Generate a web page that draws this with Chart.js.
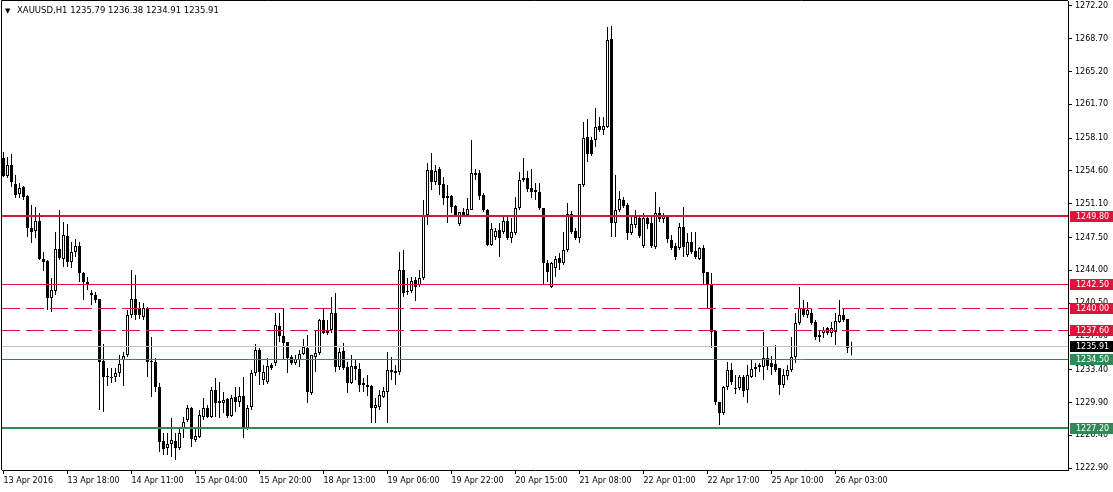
<!DOCTYPE html>
<html>
<head>
<meta charset="utf-8">
<title>XAUUSD,H1</title>
<script src="https://cdn.jsdelivr.net/npm/chart.js@4.4.0/dist/chart.umd.min.js"></script>
<style>
  html, body { margin: 0; padding: 0; background: #fff; }
  #wrap { width: 1113px; height: 492px; }
</style>
</head>
<body>
<div id="wrap"><canvas id="priceChart" width="1113" height="492"></canvas></div>
<script>
// XAUUSD H1 candles, 13 Apr 02:00 -> 26 Apr 07:00 (one entry per hour bar)
const opens = [
  1255.98, 1254.06, 1255.24, 1253.21, 1252.14, 1252.89, 1251.93, 1248.51, 1248.19, 1249.26,
  1245.20, 1244.99, 1241.04, 1241.79, 1246.27, 1245.20, 1247.66, 1244.88, 1245.95, 1246.59,
  1243.71, 1242.75, 1241.58, 1241.37, 1240.94, 1234.32, 1232.72, 1232.61, 1232.61, 1233.04,
  1234.43, 1234.96, 1239.23, 1240.94, 1239.98, 1239.02, 1239.98, 1234.32, 1234.21, 1231.55,
  1225.79, 1225.04, 1225.47, 1225.79, 1225.04, 1227.06, 1228.03, 1229.31, 1225.89, 1226.21,
  1228.35, 1229.31, 1228.35, 1231.23, 1230.05, 1229.84, 1230.27, 1228.45, 1230.48, 1229.95,
  1230.59, 1227.17, 1229.41, 1233.04, 1235.50, 1232.29, 1232.08, 1233.89, 1234.11, 1238.06,
  1236.99, 1236.35, 1234.75, 1234.11, 1234.43, 1235.07, 1235.71, 1230.91, 1234.75, 1235.18,
  1238.70, 1237.63, 1237.63, 1239.44, 1233.68, 1235.39, 1233.68, 1231.97, 1233.79, 1233.47,
  1231.97, 1231.76, 1231.65, 1229.31, 1229.41, 1230.48, 1231.01, 1233.36, 1233.25, 1233.15,
  1244.03, 1241.79, 1241.79, 1242.96, 1242.43, 1243.18, 1249.90, 1254.70, 1253.42, 1254.81,
  1253.21, 1251.71, 1251.93, 1250.86, 1248.94, 1250.22, 1249.90, 1250.43, 1254.38, 1254.38,
  1252.03, 1250.43, 1246.70, 1247.55, 1248.30, 1248.09, 1249.26, 1247.45, 1247.98, 1250.65,
  1253.85, 1253.85, 1252.78, 1252.57, 1252.35, 1250.65, 1244.78, 1242.22, 1244.24, 1245.31,
  1244.78, 1246.17, 1250.01, 1248.19, 1247.45, 1253.10, 1258.22, 1257.90, 1257.90, 1259.40,
  1258.97, 1259.29, 1268.68, 1249.05, 1250.43, 1251.50, 1250.97, 1247.98, 1248.83, 1249.58,
  1246.59, 1249.58, 1249.05, 1246.49, 1250.11, 1249.47, 1249.69, 1247.23, 1246.59, 1246.38,
  1248.62, 1245.63, 1247.02, 1246.06, 1245.20, 1246.38, 1243.82, 1242.43, 1237.52, 1229.95,
  1228.77, 1231.55, 1233.36, 1231.44, 1231.44, 1232.61, 1231.23, 1232.61, 1233.47, 1233.68,
  1233.68, 1234.64, 1234.11, 1234.00, 1233.57, 1231.76, 1232.72, 1233.36, 1234.75, 1238.38,
  1239.98, 1239.23, 1239.44, 1238.48, 1237.10, 1237.31, 1237.84, 1237.31, 1237.42, 1238.48,
  1239.23, 1238.80, 1235.79
];
const highs = [
  1256.63, 1256.09, 1256.41, 1254.17, 1253.31, 1253.00, 1252.03, 1250.97, 1250.75, 1250.11,
  1245.95, 1245.10, 1243.18, 1248.09, 1250.43, 1249.15, 1248.94, 1247.02, 1247.34, 1247.02,
  1243.82, 1243.28, 1241.90, 1241.68, 1240.94, 1236.14, 1233.57, 1233.57, 1233.57, 1234.96,
  1235.28, 1239.76, 1244.03, 1243.50, 1240.62, 1240.51, 1240.08, 1236.88, 1234.64, 1231.97,
  1226.64, 1226.64, 1228.24, 1226.64, 1227.17, 1228.35, 1229.63, 1229.41, 1227.17, 1229.09,
  1230.37, 1229.63, 1231.55, 1232.51, 1232.08, 1231.01, 1230.37, 1230.69, 1231.55, 1231.55,
  1232.61, 1229.63, 1233.36, 1236.14, 1235.71, 1233.89, 1234.64, 1234.11, 1239.44, 1239.44,
  1239.98, 1236.35, 1234.96, 1234.96, 1235.50, 1236.67, 1237.10, 1234.96, 1237.63, 1238.80,
  1239.98, 1238.70, 1241.15, 1241.58, 1235.71, 1236.24, 1234.21, 1234.96, 1234.43, 1234.11,
  1232.51, 1232.83, 1231.76, 1230.37, 1231.23, 1231.55, 1235.28, 1234.75, 1233.89, 1245.95,
  1246.17, 1243.18, 1243.28, 1243.28, 1244.03, 1251.50, 1255.45, 1256.52, 1255.23, 1255.02,
  1253.96, 1253.10, 1252.03, 1250.97, 1250.22, 1250.65, 1251.71, 1257.90, 1254.81, 1254.70,
  1252.25, 1250.54, 1249.05, 1248.51, 1249.05, 1249.69, 1249.69, 1249.58, 1251.82, 1254.49,
  1255.98, 1254.60, 1254.81, 1253.31, 1253.31, 1250.65, 1245.10, 1244.88, 1245.52, 1245.84,
  1248.09, 1251.18, 1250.33, 1248.51, 1253.21, 1259.82, 1260.14, 1258.22, 1261.32, 1260.36,
  1260.36, 1269.96, 1270.07, 1254.17, 1252.46, 1251.82, 1251.18, 1249.69, 1250.43, 1249.69,
  1250.11, 1249.79, 1249.79, 1252.35, 1250.75, 1250.11, 1249.79, 1247.77, 1246.91, 1249.05,
  1250.75, 1247.98, 1248.09, 1248.09, 1246.49, 1246.70, 1243.82, 1243.71, 1237.52, 1229.95,
  1231.65, 1234.21, 1234.11, 1232.83, 1232.83, 1232.83, 1233.89, 1234.43, 1234.11, 1234.11,
  1237.42, 1235.82, 1234.86, 1236.03, 1233.57, 1233.47, 1233.89, 1236.88, 1239.44, 1242.22,
  1240.83, 1240.62, 1239.98, 1238.70, 1237.63, 1237.95, 1237.95, 1238.48, 1239.44, 1240.83,
  1239.98, 1238.80, 1236.38
];
const lows = [
  1253.95, 1253.85, 1252.89, 1251.71, 1251.71, 1251.50, 1247.55, 1246.91, 1247.45, 1245.10,
  1243.92, 1239.76, 1239.55, 1241.37, 1245.10, 1244.35, 1244.35, 1244.24, 1245.42, 1242.75,
  1240.83, 1241.90, 1240.30, 1240.51, 1229.09, 1228.88, 1231.65, 1231.98, 1232.08, 1232.61,
  1231.65, 1234.75, 1238.91, 1238.70, 1238.80, 1238.70, 1232.61, 1230.48, 1231.01, 1224.61,
  1224.29, 1224.29, 1224.08, 1223.76, 1224.83, 1226.11, 1227.81, 1225.15, 1225.68, 1226.10,
  1228.03, 1228.24, 1228.24, 1228.35, 1228.24, 1228.77, 1228.24, 1228.35, 1228.88, 1229.41,
  1226.11, 1226.96, 1229.09, 1232.72, 1231.76, 1231.76, 1231.86, 1233.36, 1233.79, 1236.35,
  1234.43, 1233.04, 1233.89, 1233.89, 1233.68, 1234.96, 1229.84, 1230.69, 1233.15, 1234.96,
  1237.20, 1237.10, 1237.31, 1233.15, 1233.36, 1233.36, 1230.91, 1231.86, 1232.29, 1231.01,
  1231.01, 1230.59, 1227.71, 1227.71, 1229.09, 1230.37, 1227.71, 1232.29, 1231.76, 1232.83,
  1241.15, 1241.37, 1241.58, 1240.72, 1242.22, 1242.96, 1248.83, 1252.57, 1253.10, 1252.03,
  1250.97, 1249.05, 1250.11, 1249.69, 1248.73, 1249.69, 1249.79, 1250.43, 1253.63, 1251.50,
  1250.22, 1246.59, 1246.59, 1247.23, 1245.42, 1247.87, 1247.23, 1246.91, 1247.77, 1250.43,
  1253.42, 1252.35, 1251.71, 1251.50, 1250.43, 1242.43, 1242.75, 1242.11, 1243.28, 1244.03,
  1244.56, 1245.95, 1247.87, 1247.23, 1246.91, 1252.89, 1255.55, 1256.20, 1257.16, 1258.76,
  1258.44, 1259.18, 1247.55, 1247.55, 1250.22, 1250.65, 1247.23, 1247.77, 1248.51, 1247.45,
  1246.38, 1248.41, 1246.38, 1246.27, 1249.15, 1249.05, 1246.91, 1246.17, 1245.10, 1246.17,
  1245.42, 1245.42, 1245.74, 1245.20, 1245.10, 1242.43, 1239.98, 1235.71, 1229.63, 1227.49,
  1228.56, 1231.23, 1231.76, 1230.80, 1231.23, 1230.48, 1229.84, 1232.51, 1232.61, 1233.15,
  1232.29, 1233.36, 1232.83, 1233.15, 1230.69, 1231.44, 1232.29, 1233.15, 1234.11, 1238.16,
  1239.02, 1238.91, 1238.16, 1236.56, 1236.35, 1236.78, 1237.10, 1236.88, 1236.03, 1238.38,
  1238.48, 1235.18, 1234.91
];
const closes = [
  1254.06, 1255.24, 1253.42, 1252.03, 1252.78, 1251.82, 1248.51, 1248.09, 1249.26, 1245.20,
  1244.88, 1241.04, 1241.90, 1246.27, 1245.31, 1247.77, 1244.88, 1245.95, 1246.59, 1243.71,
  1242.75, 1242.43, 1241.37, 1240.83, 1234.21, 1232.61, 1232.61, 1232.51, 1233.04, 1234.00,
  1234.86, 1239.23, 1240.94, 1239.23, 1239.23, 1239.98, 1234.21, 1234.21, 1231.55, 1225.68,
  1224.93, 1225.47, 1225.89, 1225.04, 1226.64, 1227.81, 1229.31, 1226.00, 1226.32, 1228.56,
  1229.31, 1228.35, 1231.23, 1229.84, 1229.84, 1230.16, 1228.45, 1230.37, 1229.95, 1230.59,
  1227.06, 1229.31, 1233.04, 1235.50, 1233.15, 1233.15, 1233.79, 1233.57, 1238.16, 1236.99,
  1236.24, 1234.64, 1234.11, 1234.54, 1235.07, 1235.82, 1231.01, 1234.96, 1235.18, 1238.70,
  1237.31, 1237.31, 1239.44, 1233.68, 1235.28, 1233.57, 1231.97, 1233.79, 1233.47, 1231.76,
  1231.76, 1231.55, 1229.31, 1229.63, 1230.69, 1231.12, 1233.36, 1233.15, 1233.04, 1244.03,
  1241.58, 1241.68, 1242.86, 1242.22, 1243.18, 1249.90, 1254.70, 1253.42, 1254.60, 1253.10,
  1251.71, 1251.93, 1250.75, 1249.90, 1250.22, 1249.90, 1250.54, 1254.38, 1254.17, 1251.93,
  1250.43, 1246.70, 1248.41, 1248.19, 1247.45, 1249.26, 1247.45, 1248.09, 1250.65, 1253.63,
  1253.63, 1252.67, 1252.35, 1252.35, 1250.65, 1244.78, 1243.82, 1244.78, 1245.20, 1244.78,
  1246.17, 1250.01, 1248.09, 1247.45, 1253.21, 1258.12, 1256.41, 1256.41, 1259.29, 1258.97,
  1259.40, 1268.57, 1249.05, 1250.43, 1251.61, 1250.86, 1247.98, 1248.94, 1249.69, 1247.66,
  1249.58, 1248.94, 1246.59, 1250.11, 1249.47, 1249.79, 1247.34, 1246.38, 1245.42, 1248.62,
  1246.49, 1247.02, 1245.95, 1245.42, 1246.38, 1243.71, 1242.43, 1237.42, 1229.95, 1228.77,
  1231.55, 1233.36, 1232.08, 1231.33, 1232.61, 1231.12, 1232.83, 1233.47, 1233.68, 1233.89,
  1234.64, 1233.79, 1233.68, 1233.36, 1231.76, 1232.83, 1233.36, 1234.75, 1238.38, 1239.98,
  1239.23, 1239.76, 1238.38, 1236.88, 1236.88, 1237.63, 1237.31, 1237.84, 1238.59, 1239.23,
  1238.70, 1235.71, 1235.91
];

// time axis labels (one every 16 bars)
const timeLabels = ['13 Apr 2016', '13 Apr 18:00', '14 Apr 11:00', '15 Apr 04:00', '15 Apr 20:00',
  '18 Apr 13:00', '19 Apr 06:00', '19 Apr 22:00', '20 Apr 15:00', '21 Apr 08:00',
  '22 Apr 01:00', '22 Apr 17:00', '25 Apr 10:00', '26 Apr 03:00'];
const timeLabelBars = [0, 16, 32, 48, 64, 80, 96, 112, 128, 144, 160, 176, 192, 208];

// price scale labels
const priceTicks = [1272.20, 1268.70, 1265.20, 1261.70, 1258.10, 1254.60, 1251.10, 1247.50,
  1244.00, 1240.50, 1237.00, 1233.40, 1229.90, 1226.40, 1222.90];

// horizontal levels drawn on the chart (support / resistance, bid)
const levelPrices = [1249.80, 1242.50, 1240.00, 1237.60, 1235.91, 1234.50, 1227.20];

const symbolTitle = 'XAUUSD,H1';

const RED = '#dc143c';
const GREEN = '#2e8b57';
const levelStyles = [
  { color: RED, width: 2, dash: [] },
  { color: RED, width: 1, dash: [] },
  { color: RED, width: 1, dash: [18, 6] },
  { color: RED, width: 1, dash: [18, 6] },
  { color: '#c0c0c0', width: 1, dash: [], box: '#000000' },
  { color: GREEN, width: 1, dash: [] },
  { color: GREEN, width: 2, dash: [] }
];

const axisFont = { family: 'DejaVu Sans', size: 8 };

// build the floating bars for wicks and bodies
const wickData = opens.map((o, i) => ({ x: i, y: [lows[i], highs[i]] }));
const bodyData = opens.map((o, i) => ({ x: i, y: [Math.min(o, closes[i]), Math.max(o, closes[i])] }));
const bodyColors = opens.map((o, i) => (closes[i] >= o ? '#ffffff' : '#000000'));

const levelsPlugin = {
  id: 'levels',
  afterDatasetsDraw(chart) {
    const { ctx, chartArea: a, scales: { y } } = chart;
    ctx.save();
    levelPrices.forEach((p, i) => {
      const st = levelStyles[i];
      const py = Math.round(y.getPixelForValue(p)) + (st.width % 2 ? 0.5 : 0);
      ctx.strokeStyle = st.color;
      ctx.lineWidth = st.width;
      ctx.setLineDash(st.dash);
      ctx.beginPath();
      ctx.moveTo(a.left, py);
      ctx.lineTo(a.right, py);
      ctx.stroke();
    });
    ctx.restore();
  },
  afterDraw(chart) {
    const { ctx, chartArea: a, scales: { y } } = chart;
    ctx.save();

    // frame on the left and top
    ctx.strokeStyle = '#000';
    ctx.lineWidth = 1;
    ctx.beginPath();
    ctx.moveTo(a.left - 0.5, a.bottom);
    ctx.lineTo(a.left - 0.5, a.top - 0.5);
    ctx.lineTo(a.right, a.top - 0.5);
    ctx.stroke();

    // price boxes on the right scale
    ctx.font = '8px "DejaVu Sans"';
    ctx.textBaseline = 'middle';
    ctx.textAlign = 'left';
    levelPrices.forEach((p, i) => {
      const st = levelStyles[i];
      const py = Math.round(y.getPixelForValue(p));
      ctx.fillStyle = st.box || st.color;
      ctx.fillRect(a.right + 2, py - 5, chart.width - a.right - 2, 11);
      ctx.fillStyle = '#fff';
      ctx.fillText(p.toFixed(2), a.right + 8, py + 0.5);
    });

    // symbol line at top left
    ctx.fillStyle = '#000';
    ctx.font = '7px "DejaVu Sans"';
    ctx.fillText('\u25BC', 5, 11);
    ctx.font = '8.5px "DejaVu Sans"';
    const last = opens.length - 1;
    const ohlc = [opens[last], highs[last], lows[last], closes[last]].map(v => v.toFixed(2)).join(' ');
    ctx.fillText(symbolTitle + ' ' + ohlc, 17, 11);
    ctx.restore();
  }
};

new Chart(document.getElementById('priceChart'), {
  type: 'bar',
  data: {
    datasets: [
      {
        label: 'wick',
        data: wickData,
        backgroundColor: '#000000',
        borderWidth: 0,
        barThickness: 1,
        inflateAmount: 0,
        grouped: false,
        order: 2
      },
      {
        label: 'body',
        data: bodyData,
        backgroundColor: bodyColors,
        borderColor: '#000000',
        borderWidth: 1,
        borderSkipped: false,
        barThickness: 3,
        minBarLength: 1,
        inflateAmount: 0,
        grouped: false,
        order: 1
      }
    ]
  },
  options: {
    responsive: false,
    animation: false,
    devicePixelRatio: 1,
    layout: { padding: { left: 2, top: 1, right: 0, bottom: 0 } },
    plugins: {
      legend: { display: false },
      tooltip: { enabled: false }
    },
    scales: {
      x: {
        type: 'linear',
        position: 'bottom',
        min: -0.375,
        max: 266.125,
        offset: false,
        afterBuildTicks: (s) => { s.ticks = timeLabelBars.map(v => ({ value: v })); },
        afterFit: (s) => { s.height = 22; s.paddingLeft = 0; s.paddingRight = 0; },
        ticks: {
          autoSkip: false,
          maxRotation: 0,
          align: 'start',
          padding: 2,
          color: '#000',
          font: axisFont,
          callback: (v, i) => timeLabels[i]
        },
        grid: { drawOnChartArea: false, offset: false, tickLength: 4, color: '#000' },
        border: { color: '#000' }
      },
      y: {
        position: 'right',
        min: 1222.69,
        max: 1272.73,
        beginAtZero: false,
        afterBuildTicks: (s) => { s.ticks = priceTicks.map(v => ({ value: v })); },
        // keep the plot full height: no extra room for the edge labels
        afterFit: (s) => { s.width = 45; s.paddingTop = 0; s.paddingBottom = 0; },
        ticks: {
          padding: 3,
          color: '#000',
          font: axisFont,
          callback: (v) => Number(v).toFixed(2)
        },
        grid: { drawOnChartArea: false, tickLength: 4, color: '#000' },
        border: { color: '#000' }
      }
    }
  },
  plugins: [levelsPlugin]
});
</script>
</body>
</html>
